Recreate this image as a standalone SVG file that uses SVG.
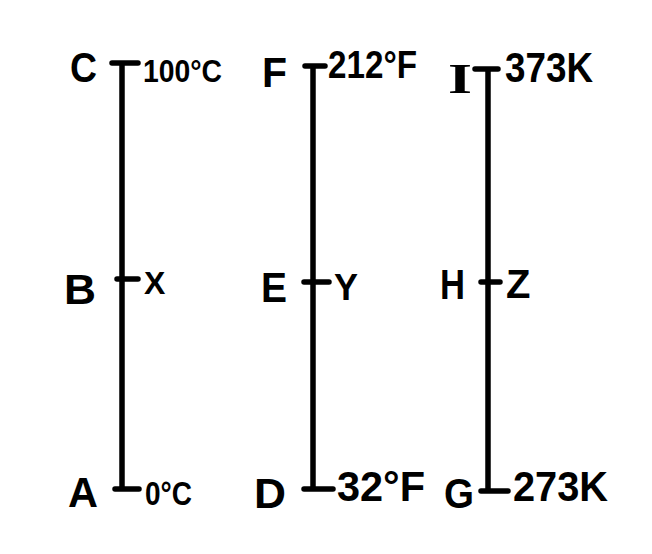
<svg xmlns="http://www.w3.org/2000/svg" width="652" height="554" viewBox="0 0 652 554">
<style>
.bg{fill:#fff}
.ln{stroke:#000;stroke-width:5.5;stroke-linecap:round;fill:none}
.lab{font-family:"Liberation Sans",Arial,sans-serif;font-size:42px;font-weight:bold;fill:#000}
.val{font-family:"Liberation Sans",Arial,sans-serif;font-size:30px;font-weight:bold;fill:#000}
.ser{font-family:"Liberation Serif","Times New Roman",serif}
</style>
<rect class="bg" width="652" height="554"/>
<g id="connectors">
<path class="ln" d="M122 63V489M112 63H138M117 279H138M115 489H139"/>
<path class="ln" d="M313 66V489M305 66H325M304 282H329M304 489H333"/>
<path class="ln" d="M488 69V491M475 69H498M481 282H500M481 491H508"/>
</g>
<g id="node-C"><text class="lab" x="70" y="82" textLength="27" lengthAdjust="spacingAndGlyphs">C</text></g>
<g id="node-100C"><text class="val" x="143" y="82" style="font-size:31px" textLength="79" lengthAdjust="spacingAndGlyphs">100°C</text></g>
<g id="node-B"><text class="lab" x="64" y="304" textLength="32" lengthAdjust="spacingAndGlyphs">B</text></g>
<g id="node-X"><text class="val" x="144" y="294" style="font-size:32px">X</text></g>
<g id="node-A"><text class="lab" x="68" y="507" textLength="30" lengthAdjust="spacingAndGlyphs">A</text></g>
<g id="node-0C"><text class="val" x="145" y="505" style="font-size:34px" textLength="47" lengthAdjust="spacingAndGlyphs">0°C</text></g>
<g id="node-F"><text class="lab" x="262" y="87" textLength="25" lengthAdjust="spacingAndGlyphs">F</text></g>
<g id="node-212F"><text class="val" x="328" y="78" style="font-size:38px" textLength="89" lengthAdjust="spacingAndGlyphs">212°F</text></g>
<g id="node-E"><text class="lab" x="261" y="302" textLength="26" lengthAdjust="spacingAndGlyphs">E</text></g>
<g id="node-Y"><text class="val" x="334" y="300" style="font-size:36px">Y</text></g>
<g id="node-D"><text class="lab" x="254" y="508" textLength="32" lengthAdjust="spacingAndGlyphs">D</text></g>
<g id="node-32F"><text class="val" x="337" y="501" style="font-size:42px" textLength="88" lengthAdjust="spacingAndGlyphs">32°F</text></g>
<g id="node-I"><text class="lab ser" x="448" y="93" textLength="24" lengthAdjust="spacingAndGlyphs">I</text></g>
<g id="node-373K"><text class="val" x="505" y="82" style="font-size:42px" textLength="88" lengthAdjust="spacingAndGlyphs">373K</text></g>
<g id="node-H"><text class="lab" x="440" y="299" textLength="25" lengthAdjust="spacingAndGlyphs">H</text></g>
<g id="node-Z"><text class="val" x="506" y="298" style="font-size:40px">Z</text></g>
<g id="node-G"><text class="lab" x="444" y="508" textLength="30" lengthAdjust="spacingAndGlyphs">G</text></g>
<g id="node-273K"><text class="val" x="513" y="501" style="font-size:42px" textLength="95" lengthAdjust="spacingAndGlyphs">273K</text></g>
</svg>
